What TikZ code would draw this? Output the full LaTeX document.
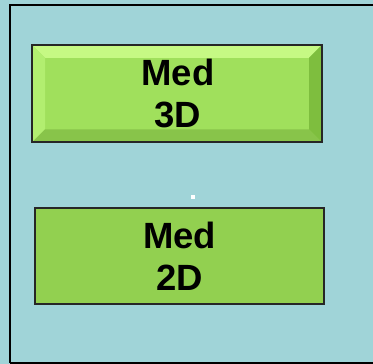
\documentclass[tikz,border=0pt]{standalone}
\usepackage{fontspec}
\setmainfont{Liberation Sans}
\definecolor{panelbg}{HTML}{A0D4D8}
\definecolor{bevelface}{HTML}{A0E05C}
\definecolor{beveltop}{HTML}{C6F984}
\definecolor{bevelleft}{HTML}{B2EE70}
\definecolor{bevelright}{HTML}{7EBE3E}
\definecolor{bevelbottom}{HTML}{88C44A}
\definecolor{flatgreen}{HTML}{92D050}
\tikzset{
  label text/.style={font=\bfseries\fontsize{36.5}{42}\selectfont, align=center, text=black},
  box edge/.style={draw=black!85, line width=2pt},
}
\begin{document}
\begin{tikzpicture}[x=1pt,y=1pt]
  \useasboundingbox (0,0) rectangle (373,364);
  % panel
  \fill[panelbg] (0,0) rectangle (373,364);
  \draw[black, line width=2pt] (9.5,1) -- (9.5,358.5) -- (380,358.5);
  \draw[black, line width=1.5pt] (9.5,1) -- (380,1);

  % bevelled button
  \coordinate (b1sw) at (32,221.5);
  \coordinate (b1ne) at (322,319);
  \fill[bevelface] (b1sw) rectangle (b1ne);
  \fill[beveltop] (32,319) -- (322,319) -- (309,306) -- (45,306) -- cycle;
  \fill[bevelleft] (32,319) -- (45,306) -- (45,234.5) -- (32,221.5) -- cycle;
  \fill[bevelright] (322,319) -- (309,306) -- (309,234.5) -- (322,221.5) -- cycle;
  \fill[bevelbottom] (32,221.5) -- (45,234.5) -- (309,234.5) -- (322,221.5) -- cycle;
  \draw[box edge] (b1sw) rectangle (b1ne);
  \node[label text] (med3d) at (178,271) {Med\\3D\hspace{11pt}};

  % small marker
  \fill[white] (190.5,164.5) rectangle (194.5,168.5);

  % flat button
  \node[box edge, fill=flatgreen, minimum width=289pt, minimum height=96.5pt,
        inner sep=0pt, label text] (med2d) at (179.5,108) {Med\\2D};
\end{tikzpicture}
\end{document}
